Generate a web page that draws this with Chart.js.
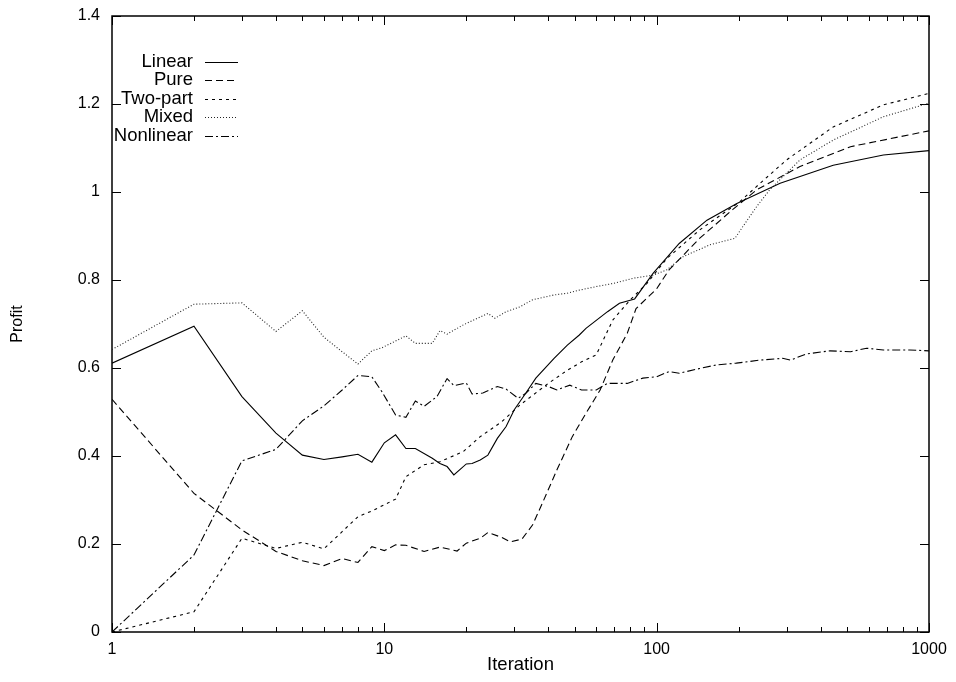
<!DOCTYPE html>
<html>
<head>
<meta charset="utf-8">
<title>Profit vs Iteration</title>
<script src="https://cdn.jsdelivr.net/npm/chart.js@4/dist/chart.umd.min.js"></script>
<style>
  body { margin: 0; background: #fff; }
  canvas { display: block; }
</style>
</head>
<body>
<canvas id="chart" width="956" height="682"></canvas>
<script>
// tick values and labels
const xTicks = [1, 10, 100, 1000]
const xLabels = ['1', '10', '100', '1000']
const yTicks = [0, 0.2, 0.4, 0.6, 0.8, 1, 1.2, 1.4]
const yLabels = ['0', '0.2', '0.4', '0.6', '0.8', '1', '1.2', '1.4']

const seriesNames = ['Linear', 'Pure', 'Two-part', 'Mixed', 'Nonlinear']

// values (iteration, profit)
const linearX = [1, 2, 3, 4, 5, 6, 7, 8, 9, 10, 11, 12, 13, 15, 16, 17, 18, 20, 21, 22.5, 24, 26, 28, 30, 33, 36, 42, 47, 52, 55, 66, 73, 83, 97, 121, 153, 197, 284, 445, 680, 1000]
const linearY = [0.611, 0.695, 0.535, 0.452, 0.402, 0.392, 0.398, 0.404, 0.386, 0.430, 0.448, 0.417, 0.417, 0.395, 0.383, 0.376, 0.357, 0.382, 0.383, 0.391, 0.402, 0.440, 0.467, 0.505, 0.542, 0.577, 0.622, 0.652, 0.675, 0.690, 0.728, 0.747, 0.757, 0.815, 0.883, 0.936, 0.974, 1.020, 1.061, 1.084, 1.094]

const pureX = [1, 2, 3, 4, 5, 6, 7, 8, 9, 10, 11, 12, 14, 16, 18.5, 20, 22.5, 24, 27, 29, 32, 35, 38, 43, 49, 55, 62, 69, 78, 84, 100, 111, 144, 190, 233, 336, 515, 1000]
const pureY = [0.529, 0.315, 0.232, 0.183, 0.162, 0.151, 0.167, 0.158, 0.194, 0.185, 0.198, 0.197, 0.183, 0.193, 0.184, 0.202, 0.213, 0.226, 0.215, 0.205, 0.211, 0.243, 0.292, 0.368, 0.444, 0.497, 0.550, 0.618, 0.679, 0.735, 0.780, 0.823, 0.895, 0.960, 1.005, 1.058, 1.103, 1.139]

const twoPartX = [1, 2, 3, 4, 5, 6, 7, 8, 9, 11, 12, 14, 16, 19.5, 22.5, 27, 31.5, 40, 47, 53, 60, 69, 80, 92, 109, 144, 202, 240, 300, 445, 680, 1000]
const twoPartY = [0, 0.046, 0.213, 0.190, 0.204, 0.189, 0.228, 0.262, 0.275, 0.302, 0.353, 0.380, 0.387, 0.410, 0.444, 0.478, 0.516, 0.565, 0.595, 0.614, 0.630, 0.709, 0.755, 0.792, 0.849, 0.914, 0.978, 1.020, 1.073, 1.148, 1.198, 1.224]

const mixedX = [1, 2, 3, 4, 5, 6, 7, 8, 9, 9.8, 12, 13, 15, 16, 17, 19.5, 24, 25.5, 28, 31.5, 35, 42, 47, 52, 60, 69, 82, 97, 109, 125, 157, 194, 207, 233, 260, 336, 445, 680, 1000]
const mixedY = [0.642, 0.745, 0.748, 0.683, 0.730, 0.670, 0.637, 0.609, 0.639, 0.646, 0.673, 0.656, 0.656, 0.685, 0.677, 0.698, 0.724, 0.713, 0.728, 0.739, 0.755, 0.766, 0.770, 0.777, 0.785, 0.792, 0.804, 0.811, 0.823, 0.853, 0.880, 0.895, 0.921, 0.967, 1.005, 1.073, 1.118, 1.171, 1.202]

const nonlinearX = [1, 2, 3, 4, 5, 6, 7, 8, 9, 9.8, 11, 12, 13, 14, 15.6, 17, 18, 20, 21, 23, 26, 28, 31, 33, 36, 40, 43, 48, 53, 60, 66, 78, 89, 100, 111, 121, 144, 166, 196, 240, 290, 310, 355, 433, 515, 590, 680, 850, 1000]
const nonlinearY = [0, 0.175, 0.389, 0.415, 0.480, 0.514, 0.550, 0.583, 0.580, 0.546, 0.493, 0.488, 0.525, 0.513, 0.535, 0.576, 0.560, 0.566, 0.541, 0.543, 0.558, 0.552, 0.531, 0.542, 0.565, 0.558, 0.550, 0.561, 0.550, 0.550, 0.565, 0.565, 0.577, 0.580, 0.592, 0.588, 0.599, 0.607, 0.611, 0.618, 0.622, 0.618, 0.632, 0.639, 0.637, 0.645, 0.641, 0.641, 0.639]

const FAMILY = '"Liberation Sans", Arial, Helvetica, sans-serif'
const FONT = {family: FAMILY, size: 16}
const BIG = {family: FAMILY, size: 18.5}

const pairs = (xs, ys) => xs.map((x, i) => ({x: x, y: ys[i]}))

const dashes = [[], [7, 4], [3, 4], [1, 2], [8, 3, 2, 3]]
const colors = ['#000', '#000', '#000', '#222', '#000']
const allData = [
  pairs(linearX, linearY),
  pairs(pureX, pureY),
  pairs(twoPartX, twoPartY),
  pairs(mixedX, mixedY),
  pairs(nonlinearX, nonlinearY)
]

// gnuplot style box with inward ticks
const framePlugin = {
  id: 'frame',
  beforeDatasetsDraw(chart) {
    const {ctx, chartArea: a, scales} = chart
    ctx.save()
    ctx.strokeStyle = '#000'
    ctx.lineWidth = 1
    ctx.beginPath()
    yTicks.forEach(v => {
      const y = Math.round(scales.y.getPixelForValue(v)) + 0.5
      ctx.moveTo(a.left, y); ctx.lineTo(a.left + 9, y)
      ctx.moveTo(a.right, y); ctx.lineTo(a.right - 9, y)
    })
    for (let d = 1; d < 1000; d *= 10) {
      for (let m = 1; m <= 10; m++) {
        const x = Math.round(scales.x.getPixelForValue(d * m)) + 0.5
        const len = (m === 1 || m === 10) ? 9 : 5
        ctx.moveTo(x, a.bottom); ctx.lineTo(x, a.bottom - len)
        ctx.moveTo(x, a.top); ctx.lineTo(x, a.top + len)
      }
    }
    ctx.stroke()
    ctx.lineWidth = 1.5
    ctx.strokeRect(a.left, a.top, a.right - a.left, a.bottom - a.top)
    ctx.restore()
  },
  afterDatasetsDraw(chart) {
    // key in the top left corner
    const ctx = chart.ctx
    ctx.save()
    ctx.font = BIG.size + 'px ' + FAMILY
    ctx.textAlign = 'right'
    ctx.textBaseline = 'middle'
    ctx.fillStyle = '#000'
    chart.data.datasets.forEach((ds, i) => {
      const y = 62 + i * 18.4
      ctx.fillText(ds.label, 193, y)
      ctx.beginPath()
      ctx.setLineDash(ds.borderDash)
      ctx.strokeStyle = ds.borderColor
      ctx.lineWidth = 1
      ctx.moveTo(205, Math.round(y) + 0.5)
      ctx.lineTo(238, Math.round(y) + 0.5)
      ctx.stroke()
    })
    ctx.restore()
  }
}

var ctx = document.getElementById('chart').getContext('2d')
var chart = new Chart(ctx, {
  type: 'line',
  data: {
    datasets: seriesNames.map((name, i) => ({
      label: name,
      data: allData[i],
      borderColor: colors[i],
      borderWidth: 1.1,
      borderDash: dashes[i],
      pointRadius: 0,
      fill: false,
      tension: 0
    }))
  },
  plugins: [framePlugin],
  options: {
    responsive: false,
    animation: false,
    layout: {padding: {top: 16, right: 27, left: 0, bottom: 0}},
    plugins: {legend: {display: false}, tooltip: {enabled: false}},
    scales: {
      x: {
        type: 'logarithmic',
        min: 1,
        max: 1000,
        afterBuildTicks: s => { s.ticks = xTicks.map(v => ({value: v})) },
        afterFit: s => { s.height = 50; s.paddingLeft = 0; s.paddingRight = 0 },
        grid: {display: false, drawTicks: false},
        border: {display: false},
        ticks: {
          font: FONT, color: '#000', padding: 8, maxRotation: 0, autoSkip: false,
          callback: (v, i) => xLabels[i]
        },
        title: {display: true, text: 'Iteration', font: BIG, color: '#000', padding: {top: 0, bottom: 6}}
      },
      y: {
        min: 0,
        max: 1.4,
        afterBuildTicks: s => { s.ticks = yTicks.map(v => ({value: v})) },
        afterFit: s => { s.width = 112; s.paddingTop = 0; s.paddingBottom = 0 },
        grid: {display: false, drawTicks: false},
        border: {display: false},
        ticks: {
          font: FONT, color: '#000', padding: 12, autoSkip: false,
          callback: (v, i) => yLabels[i]
        },
        title: {display: true, text: 'Profit', font: FONT, color: '#000', padding: {top: 8, bottom: 0}}
      }
    }
  }
})
</script>
</body>
</html>
